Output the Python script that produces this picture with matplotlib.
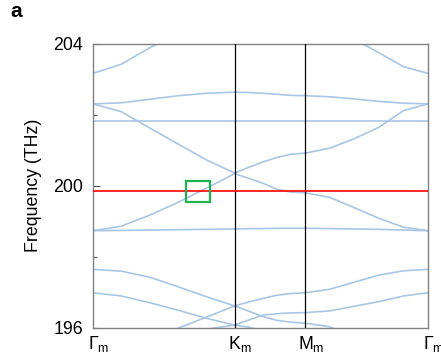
import matplotlib
matplotlib.use("Agg")
import matplotlib.pyplot as plt
import matplotlib.transforms as mtransforms

plt.rcParams['font.family'] = ['Liberation Sans', 'DejaVu Sans']
plt.rcParams['mathtext.fontset'] = 'custom'
plt.rcParams['mathtext.rm'] = 'Liberation Sans'
plt.rcParams['mathtext.it'] = 'Liberation Sans:italic'

# path coordinate (Gamma-K = 1, K-M = 0.5, M-Gamma = 0.866)
k_path = [0, 0.2, 0.4, 0.6, 0.8, 1.0, 1.1, 1.2, 1.3, 1.4, 1.5,
          1.673, 1.846, 2.02, 2.193, 2.366]
tick_pos = [0, 1.0, 1.5, 2.366]
tick_names = ['Γ$_\\mathrm{m}$', 'K$_\\mathrm{m}$', 'M$_\\mathrm{m}$', 'Γ$_\\mathrm{m}$']

# band frequencies (THz)
band1 = [203.17, 203.43, 203.89, 204.3, 204.7, 205.0, 205.0, 205.0, 205.0, 205.0,
         205.0, 205.0, 204.14, 203.75, 203.36, 203.17]
band2 = [202.31, 202.34, 202.44, 202.54, 202.61, 202.64, 202.63, 202.61, 202.58, 202.55,
         202.54, 202.51, 202.45, 202.38, 202.33, 202.31]
band3 = [202.31, 202.09, 201.63, 201.18, 200.73, 200.36, 200.52, 200.67, 200.80, 200.89,
         200.92, 201.06, 201.33, 201.65, 202.12, 202.31]
band4 = [201.84] * 16
band5 = [198.73, 198.86, 199.17, 199.53, 199.93, 200.34, 200.21, 200.07, 199.90, 199.82,
         199.80, 199.67, 199.38, 199.08, 198.83, 198.73]
band6 = [198.73, 198.74, 198.75, 198.76, 198.77, 198.78, 198.79, 198.79, 198.80, 198.80,
         198.80, 198.79, 198.78, 198.77, 198.75, 198.73]
band7 = [197.64, 197.59, 197.42, 197.15, 196.87, 196.61, 196.46, 196.31, 196.20, 196.15,
         196.12, 196.02, 195.70, 195.40, 195.10, 195.00]
band8 = [196.98, 196.89, 196.70, 196.49, 196.26, 196.07, 196.01, 195.90, 195.80, 195.70,
         195.60, 195.40, 195.20, 195.00, 195.00, 195.00]
band9 = [195.00, 195.20, 195.60, 195.98, 196.29, 196.61, 196.72, 196.82, 196.91, 196.96,
         196.98, 197.08, 197.28, 197.48, 197.60, 197.64]
band10 = [195.00, 195.20, 195.40, 195.60, 195.95, 196.07, 196.21, 196.35, 196.39, 196.41,
          196.42, 196.47, 196.60, 196.73, 196.89, 196.98]
bands = [band1, band2, band3, band4, band5, band6, band7, band8, band9, band10]

target_freq = 199.85
box_k = (0.655, 0.827)
box_f = (199.53, 200.12)

fig = plt.figure(figsize=(4.41, 3.62), dpi=100)
ax = fig.add_axes([0.2109, 0.0953, 0.7596, 0.7832])

for b in bands:
    ax.plot(k_path, b, color='#a9c6e4', lw=1.2, zorder=2)

for x in tick_pos[1:3]:
    ax.axvline(x, color='black', lw=0.9, zorder=3)

ax.axhline(target_freq, color='#ff0000', lw=1.2, zorder=4)

ax.add_patch(plt.Rectangle((box_k[0], box_f[0]), box_k[1] - box_k[0], box_f[1] - box_f[0],
                           fill=False, edgecolor='#1fb04f', lw=1.6, zorder=5))

ax.set_xlim(0, 2.366)
ax.set_ylim(196, 204)
ax.set_yticks([196, 200, 204])
ax.set_yticks([198, 202], minor=True)
ax.tick_params(axis='y', which='major', direction='in', length=5, width=0.8,
               color='#555555', labelsize=12.8, pad=7)
ax.tick_params(axis='y', which='minor', direction='in', length=3, width=0.8,
               color='#555555')
ax.set_xticks(tick_pos)
ax.set_xticklabels(tick_names, fontsize=12.8)
ax.tick_params(axis='x', length=0, pad=5)

# main letter centred on the tick, subscript hanging to the right
shifts = [-5, -6.5, -7, -5]
for lab, dx in zip(ax.get_xticklabels(), shifts):
    lab.set_horizontalalignment('left')
    lab.set_transform(lab.get_transform() + mtransforms.ScaledTranslation(dx / 100, 0, fig.dpi_scale_trans))

for s in ax.spines.values():
    s.set_color('#808080')
    s.set_linewidth(1.0)

ax.set_ylabel('Frequency (THz)', fontsize=12.8, labelpad=8)
fig.text(0.023, 0.953, 'a', fontsize=15, fontweight='bold', va='baseline')

fig.savefig('out.png', dpi=100)
